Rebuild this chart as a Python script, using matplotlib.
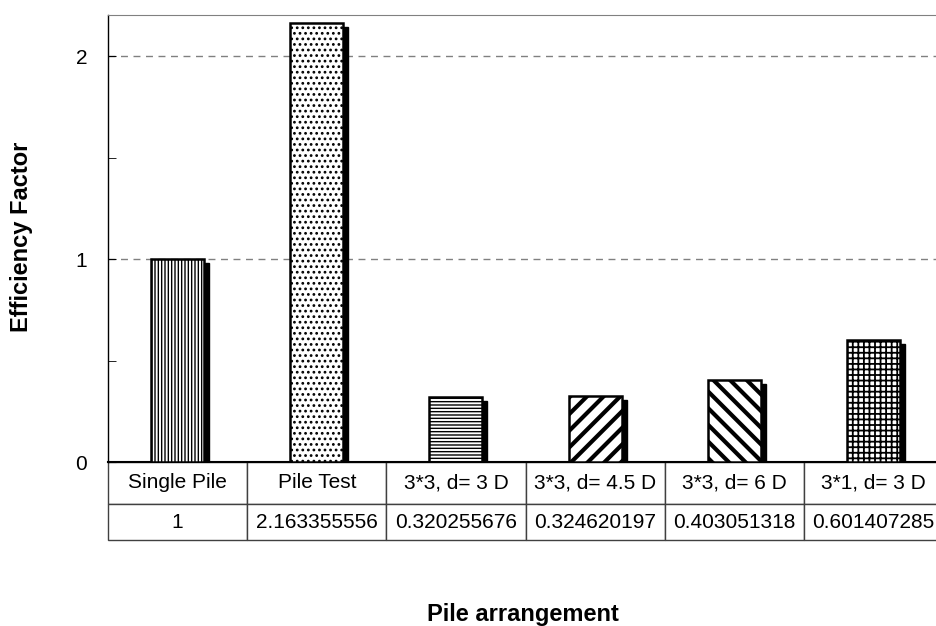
import matplotlib
matplotlib.use("Agg")
import matplotlib.pyplot as plt
import matplotlib.transforms as T

plt.rcParams['font.family'] = ['Liberation Sans', 'DejaVu Sans']

categories = ['Single Pile', 'Pile Test', '3*3, d= 3 D', '3*3, d= 4.5 D', '3*3, d= 6 D', '3*1, d= 3 D']
efficiency = [1, 2.163355556, 0.320255676, 0.324620197, 0.403051318, 0.601407285]
hatches = ['|||||', '...', '-----', '//', '\\\\', '+++']
hatch_lw = [1.0, 1.2, 1.0, 3.0, 3.0, 1.3]

fig = plt.figure(figsize=(9.36, 6.26), dpi=100)
ax = fig.add_axes([108 / 936, 164 / 626, 835 / 936, 447 / 626])

x = list(range(len(categories)))
w = 0.38

# black drop shadow behind each bar
shadow = T.offset_copy(ax.transData, fig=fig, x=5, y=-4, units='dots')
ax.bar(x, efficiency, width=w, color='black', edgecolor='black', transform=shadow, zorder=2)

bars = ax.bar(x, efficiency, width=w, color='white', edgecolor='black', linewidth=1.8, zorder=3)
for b, h, lw in zip(bars, hatches, hatch_lw):
    b.set_hatch(h)
    if hasattr(b, 'set_hatch_linewidth'):
        b.set_hatch_linewidth(lw)

ax.set_xlim(-0.5, len(categories) - 0.5)
ax.set_ylim(0, 2.202)
ax.set_yticks([0, 1, 2])
ax.set_yticks([0.5, 1.5], minor=True)
ax.tick_params(axis='y', which='both', direction='in', length=6, labelsize=15, pad=15)
ax.set_xticks([])
for yv in [1, 2]:
    ax.axhline(yv, color='#808080', linestyle=(0, (5, 4)), linewidth=1, zorder=1)

ax.spines['top'].set_color('#808080')
ax.spines['right'].set_visible(False)
ax.spines['left'].set_linewidth(1)
ax.spines['bottom'].set_linewidth(1.5)

rows = [categories, [f"{v:.10g}" for v in efficiency]]
tb = ax.table(cellText=rows, cellLoc='center', bbox=[0, -78 / 447, 1, 78 / 447])
tb.auto_set_font_size(False)
tb.set_fontsize(15)
for (r, c), cell in tb.get_celld().items():
    cell.set_edgecolor('#404040')
    cell.set_linewidth(1)
    cell.set_height(42 / 447 if r == 0 else 36 / 447)

fig.text(22 / 936, 1 - 237 / 626, 'Efficiency Factor', rotation=90, ha='center', va='center',
         fontsize=17, fontweight='bold')
fig.text(523 / 936, 1 - 614 / 626, 'Pile arrangement', ha='center', va='center',
         fontsize=17, fontweight='bold')

fig.savefig('out.png', dpi=100)
